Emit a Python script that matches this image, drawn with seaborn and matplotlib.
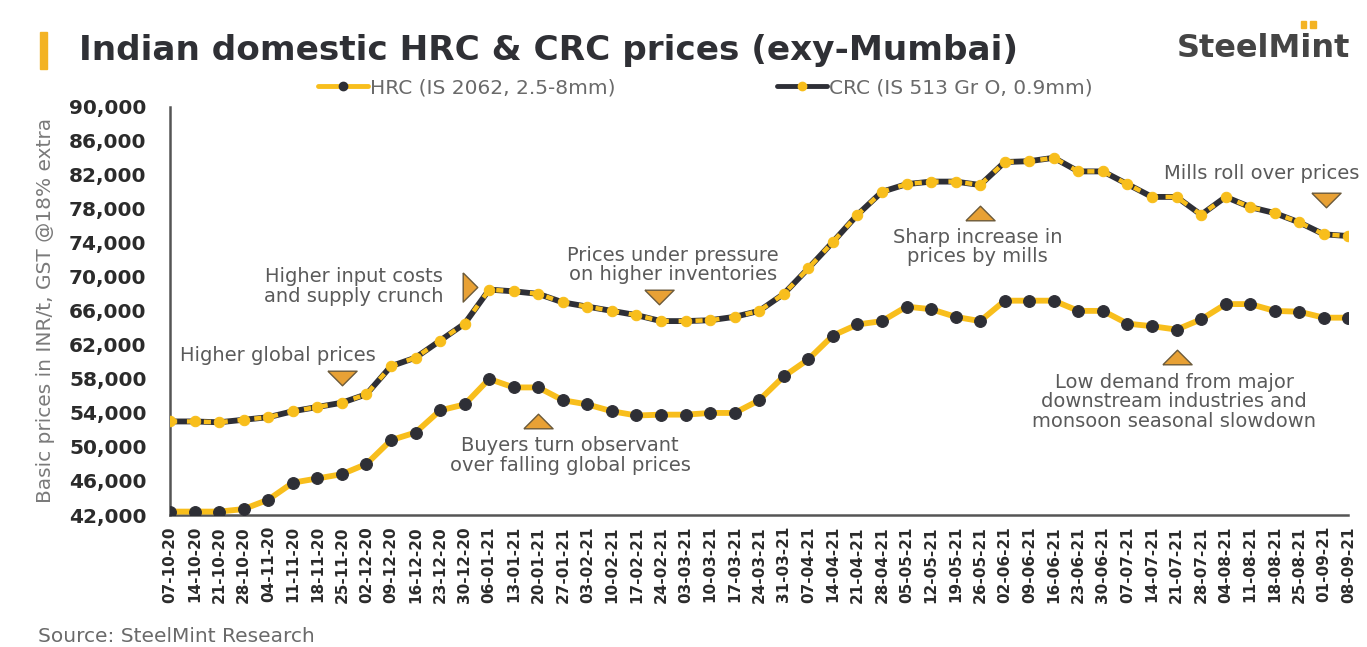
import matplotlib
matplotlib.use("Agg")
import matplotlib.pyplot as plt
from matplotlib.lines import Line2D
from matplotlib.patches import Rectangle
import numpy as np
import pandas as pd
import seaborn as sns

# Weekly assessment dates
dates = [
    "07-10-20", "14-10-20", "21-10-20", "28-10-20", "04-11-20", "11-11-20",
    "18-11-20", "25-11-20", "02-12-20", "09-12-20", "16-12-20", "23-12-20",
    "30-12-20", "06-01-21", "13-01-21", "20-01-21", "27-01-21", "03-02-21",
    "10-02-21", "17-02-21", "24-02-21", "03-03-21", "10-03-21", "17-03-21",
    "24-03-21", "31-03-21", "07-04-21", "14-04-21", "21-04-21", "28-04-21",
    "05-05-21", "12-05-21", "19-05-21", "26-05-21", "02-06-21", "09-06-21",
    "16-06-21", "23-06-21", "30-06-21", "07-07-21", "14-07-21", "21-07-21",
    "28-07-21", "04-08-21", "11-08-21", "18-08-21", "25-08-21", "01-09-21",
    "08-09-21",
]

# HRC (IS 2062, 2.5-8mm), INR/t
hrc = [
    42400, 42400, 42400, 42700, 43800, 45800, 46300, 46800, 48000, 50800,
    51700, 54300, 55000, 58000, 57000, 57000, 55500, 55000, 54200, 53700,
    53800, 53800, 54000, 54000, 55500, 58300, 60300, 63100, 64400, 64800,
    66500, 66200, 65300, 64800, 67200, 67200, 67200, 66000, 66000, 64500,
    64200, 63800, 65000, 66800, 66800, 66000, 65900, 65200, 65200,
]

# CRC (IS 513 Gr O, 0.9mm), INR/t
crc = [
    53000, 53000, 52900, 53200, 53500, 54200, 54700, 55200, 56200, 59500,
    60500, 62500, 64500, 68500, 68300, 68000, 67000, 66500, 66000, 65500,
    64800, 64800, 64900, 65300, 66000, 68000, 71000, 74100, 77300, 80000,
    80900, 81200, 81200, 80800, 83500, 83600, 84000, 82400, 82400, 80900,
    79400, 79400, 77300, 79400, 78200, 77500, 76400, 75000, 74800,
]

y_ticks = list(range(42000, 90001, 4000))

YELLOW = "#F8BE1C"
DARK = "#2E2F36"
ORANGE = "#E8A135"
GREY = "#5A5A5A"

sns.set_theme(style="white")
plt.rcParams["font.family"] = ["DejaVu Sans"]

df = pd.DataFrame({"idx": np.arange(len(dates)), "date": dates, "HRC": hrc, "CRC": crc})

fig = plt.figure(figsize=(13.67, 6.47), dpi=100)
fig.patch.set_facecolor("white")
ax = fig.add_axes([0.1244, 0.2040, 0.8620, 0.6310])

# HRC: gold line with dark dots
sns.lineplot(data=df, x="idx", y="HRC", ax=ax, color=YELLOW, linewidth=4.2,
             marker="o", markersize=8.5, markerfacecolor=DARK,
             markeredgecolor=DARK, zorder=3)
# CRC: dark line with gold dashes and gold dots
sns.lineplot(data=df, x="idx", y="CRC", ax=ax, color=DARK, linewidth=4.2,
             zorder=3)
sns.lineplot(data=df, x="idx", y="CRC", ax=ax, color=YELLOW, linewidth=3.2,
             linestyle=(0, (1.6, 2.2)), marker="o", markersize=7.5,
             markerfacecolor=YELLOW, markeredgecolor=YELLOW, zorder=4)

ax.set_xlim(0, len(dates) - 1)
ax.set_ylim(42000, 90000)
ax.set_yticks(y_ticks)
ax.set_yticklabels([f"{v:,}" for v in y_ticks], fontsize=14.5,
                   fontweight="bold", color="#2b2b2b")
ax.set_xticks(df["idx"])
ax.set_xticklabels(dates, rotation=90, fontsize=11, fontweight="bold",
                   color="#2b2b2b")
ax.set_xlabel("")
ax.set_ylabel("Basic prices in INR/t, GST @18% extra", fontsize=14.5,
              color="#7a7a7a", labelpad=10)

for s in ["top", "right"]:
    ax.spines[s].set_visible(False)
for s in ["left", "bottom"]:
    ax.spines[s].set_color("#555555")
    ax.spines[s].set_linewidth(1.8)
ax.tick_params(axis="x", which="major", length=5, width=1.2, color="#777777",
               direction="out", pad=3)
ax.tick_params(axis="y", length=0, pad=17)
ax.grid(False)
ax.set_facecolor("white")

# Callout text
ann_kw = dict(fontsize=14, color=GREY, ha="center", va="center",
              linespacing=1.05)
ax.text(4.4, 60800, "Higher global prices", **ann_kw)
ax.text(7.5, 68900, "Higher input costs\nand supply crunch", **ann_kw)
ax.text(20.5, 71400, "Prices under pressure\non higher inventories", **ann_kw)
ax.text(16.3, 49000, "Buyers turn observant\nover falling global prices", **ann_kw)
ax.text(32.9, 73500, "Sharp increase in\nprices by mills", **ann_kw)
ax.text(44.45, 82200, "Mills roll over prices", **ann_kw)
ax.text(40.9, 55300, "Low demand from major\ndownstream industries and\nmonsoon seasonal slowdown", **ann_kw)

# Flat triangle markers pointing at the events
tri_down = [(-1, 0.5), (1, 0.5), (0, -0.5), (-1, 0.5)]
tri_up = [(-1, -0.5), (1, -0.5), (0, 0.5), (-1, -0.5)]
tri_right = [(-0.5, 1), (-0.5, -1), (0.5, 0), (-0.5, 1)]
tri_kw = dict(markersize=21, markerfacecolor=ORANGE, markeredgecolor="#6b5a3a",
              markeredgewidth=1.0, linestyle="none", zorder=5)
ax.plot([7.0], [58100], marker=tri_down, **tri_kw)
ax.plot([12.2], [68800], marker=tri_right, **tri_kw)
ax.plot([19.9], [67600], marker=tri_down, **tri_kw)
ax.plot([15.0], [53100], marker=tri_up, **tri_kw)
ax.plot([33.0], [77500], marker=tri_up, **tri_kw)
ax.plot([47.1], [79000], marker=tri_down, **tri_kw)
ax.plot([41.0], [60600], marker=tri_up, **tri_kw)

# Legend
handles = [
    Line2D([0], [0], color=YELLOW, linewidth=3.5, marker="o", markersize=6,
           markerfacecolor=DARK, markeredgecolor=DARK),
    Line2D([0], [0], color=DARK, linewidth=3.5, marker="o", markersize=6,
           markerfacecolor=YELLOW, markeredgecolor=YELLOW),
]
fig.legend(handles, ["HRC (IS 2062, 2.5-8mm)", "CRC (IS 513 Gr O, 0.9mm)"],
           loc="center", bbox_to_anchor=(0.516, 0.864), ncol=2, frameon=False,
           fontsize=14.5, labelcolor="#6a6a6a", handlelength=2.5,
           handletextpad=0.1, columnspacing=8.0)

# Title block
fig.patches.append(Rectangle((0.029, 0.893), 0.0055, 0.058,
                             transform=fig.transFigure, color="#F3B324"))
fig.text(0.058, 0.922, "Indian domestic HRC & CRC prices (exy-Mumbai)",
         fontsize=24.7, fontweight="bold", color="#2f3035", va="center",
         ha="left")
fig.text(0.988, 0.925, "SteelMint", fontsize=23, fontweight="bold",
         color="#454545", va="center", ha="right")
fig.patches.append(Rectangle((0.9515, 0.957), 0.004, 0.011,
                             transform=fig.transFigure, color="#F3B324"))
fig.patches.append(Rectangle((0.9585, 0.957), 0.004, 0.011,
                             transform=fig.transFigure, color="#F3B324"))

fig.text(0.028, 0.017, "Source: SteelMint Research", fontsize=14.5,
         color="#6a6a6a", va="center", ha="left")

fig.savefig("out.png", dpi=100, facecolor="white")
